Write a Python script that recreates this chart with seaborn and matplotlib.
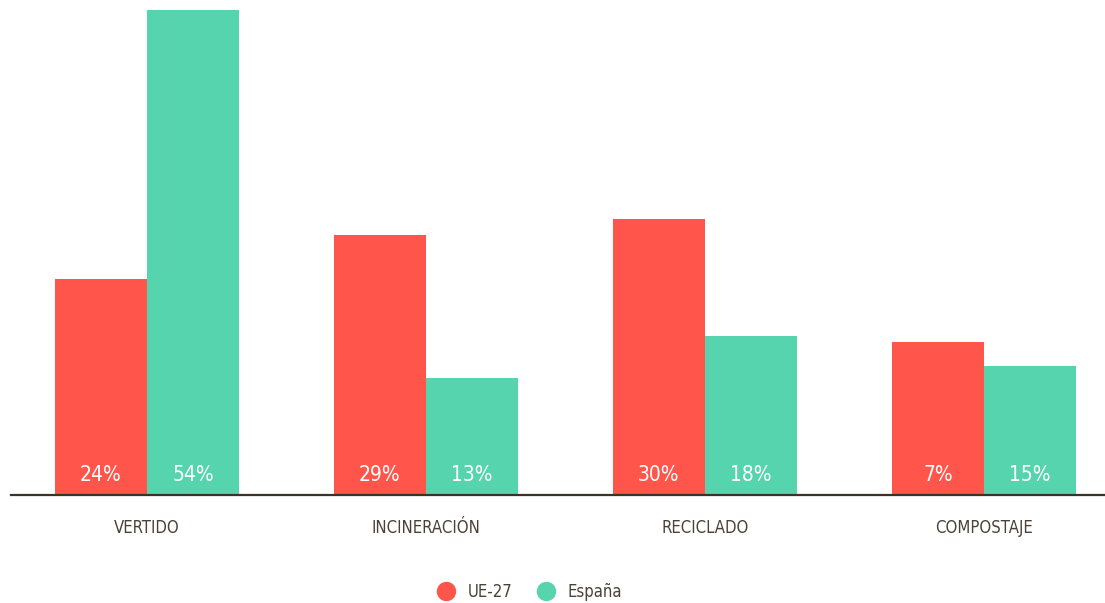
import matplotlib
matplotlib.use("Agg")
import matplotlib.pyplot as plt
from matplotlib.lines import Line2D
import seaborn as sns
import pandas as pd

categories = ["VERTIDO", "INCINERACIÓN", "RECICLADO", "COMPOSTAJE"]
series = ["UE-27", "España"]
ue_values = [24, 29, 30.7, 17]
es_values = [54, 13, 17.7, 14.4]
ue_labels = ["24%", "29%", "30%", "7%"]
es_labels = ["54%", "13%", "18%", "15%"]

colors = {"UE-27": "#FF554B", "España": "#56D4AE"}
text_color = "#4a4236"

df = pd.DataFrame({
    "categoria": categories * 2,
    "serie": [series[0]] * 4 + [series[1]] * 4,
    "valor": ue_values + es_values,
})

sns.set_theme(style="white")
plt.rcParams["font.family"] = ["DejaVu Sans"]
plt.rcParams["font.stretch"] = "condensed"

fig = plt.figure(figsize=(11.05, 6.03), dpi=100)
ax = fig.add_axes([11 / 1105, (603 - 495) / 603, 1094 / 1105, (495 - 10) / 603])

sns.barplot(data=df, x="categoria", y="valor", hue="serie", order=categories,
            hue_order=series, palette=colors, width=0.66, ax=ax,
            legend=False, saturation=1, edgecolor="none", linewidth=0)

ax.set_xlim(-0.487, 3.434)
ax.set_ylim(0, 54)
ax.set_xlabel("")
ax.set_ylabel("")
ax.set_yticks([])
for s in ["top", "right", "left"]:
    ax.spines[s].set_visible(False)
ax.spines["bottom"].set_color("#3a3328")
ax.spines["bottom"].set_linewidth(1.6)
ax.tick_params(axis="x", length=0, pad=17, labelsize=12, labelcolor=text_color)

labels_by_series = [ue_labels, es_labels]
for container, labs in zip(ax.containers, labels_by_series):
    for bar, lab in zip(container, labs):
        ax.annotate(lab, (bar.get_x() + bar.get_width() / 2, 0),
                    xytext=(0, 14.5), textcoords="offset points",
                    ha="center", va="center", color="white", fontsize=15)

handles = [Line2D([], [], marker="o", linestyle="none", markersize=14,
                  markerfacecolor=colors[s], markeredgecolor="none") for s in series]
fig.legend(handles, series, loc="center", bbox_to_anchor=(526 / 1105, 0.019),
           ncol=2, frameon=False, fontsize=12, labelcolor=text_color,
           handletextpad=0.3, columnspacing=1.0)

fig.savefig("out.png", dpi=100)
